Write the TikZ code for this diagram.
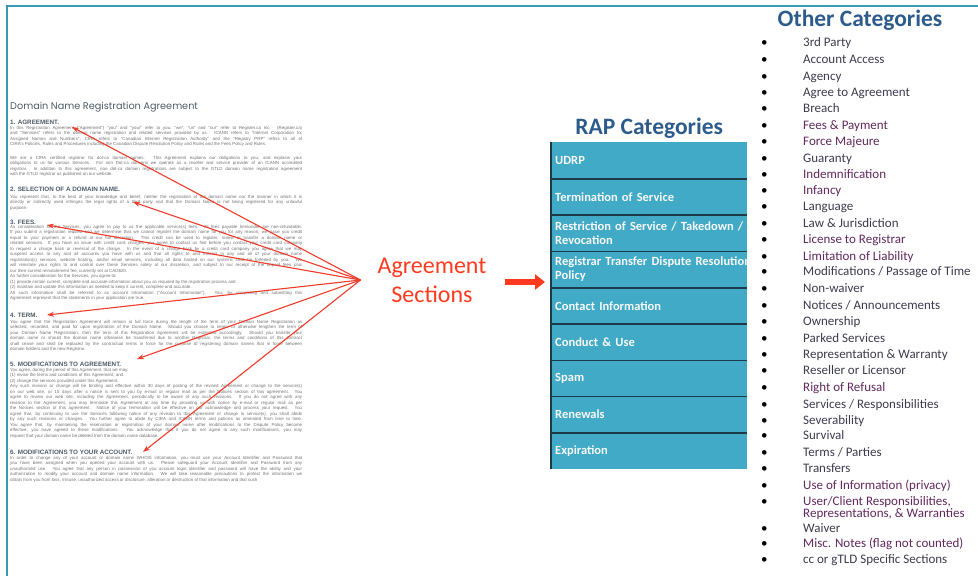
\documentclass[tikz,border=0pt]{standalone}
\usepackage{fontspec}
\setmainfont{Carlito}
\newfontfamily\docfont{Liberation Sans}
\newfontfamily\doctitlefont{Poppins}
\usepackage{tikz}
\usetikzlibrary{arrows.meta, positioning, calc}

\definecolor{borderteal}{HTML}{3A98B0}
\definecolor{cellteal}{HTML}{41AAC6}
\definecolor{cellline}{HTML}{1C3A48}
\definecolor{headblue}{HTML}{2D5B8B}
\definecolor{notered}{HTML}{FF3A1F}
\definecolor{pointred}{HTML}{EE3B2A}
\definecolor{doctext}{HTML}{707070}
\definecolor{dochead}{HTML}{4F5B66}
\definecolor{itemdark}{HTML}{3B3B4F}
\definecolor{itempurple}{HTML}{62285E}

\begin{document}
\begin{tikzpicture}
[x=1pt, y=-1pt,
 border line/.style={draw=borderteal, line width=2pt},
 doc title/.style={anchor=west, inner sep=0pt, text=dochead, font=\doctitlefont\fontsize{9.7}{11}\selectfont},
 clause/.style={anchor=west, inner sep=0pt, text=dochead, font=\docfont\bfseries\fontsize{6.3}{7}\selectfont},
 legal/.style={anchor=north west, inner sep=0pt, text width=292pt, align=justify, text=doctext, font=\docfont\fontsize{4.4}{5.5}\selectfont, execute at begin node={\parindent=0pt\tolerance=10000\hbadness=10000}},
 pointer/.style={draw=pointred, line width=1.1pt, -{Stealth[length=7pt, width=5pt]}},
 note/.style={inner sep=0pt, align=center, text=notered, font=\fontsize{24}{29}\selectfont},
 big arrow/.style={draw=notered, line width=6.5pt, -{Triangle[length=10pt, width=15pt]}},
 cat title/.style={inner sep=0pt, text=headblue, font=\bfseries\fontsize{23.5}{26}\selectfont},
 rap cell/.style={fill=cellteal, anchor=west, minimum width=196pt, minimum height=36.3pt, text width=188pt, inner xsep=4pt, inner ysep=0pt, align=left, text=white!95!gray, font=\bfseries\fontsize{12.5}{14}\selectfont},
 rap line/.style={draw=cellline, line width=1.6pt},
 cat item/.style={anchor=west, inner sep=0pt, text height=9pt, text depth=3pt, font=\fontsize{13}{11.6}\selectfont}]
\useasboundingbox (0,0) rectangle (978,576);
\draw[border line] (7,576) -- (7,6) -- (978,6);

\node[doc title] (doc title) at (10,106.7) {Domain Name Registration Agreement};
\foreach \y/\t [count=\i] in {122/1. AGREEMENT., 189.5/2. SELECTION OF A DOMAIN NAME., 222/3. FEES., 315.5/4. TERM., 364/5. MODIFICATIONS TO AGREEMENT., 452/6. MODIFICATIONS TO YOUR ACCOUNT.}{
	\node[clause] (clause \i) at (10,\y) {\t};
}
\node[legal] (para 1a) at (10,125.7) {In this Registration Agreement ("Agreement") "you" and "your" refer to you, "we", "us" and "our" refer to Register.ca Inc. (Register.ca)\linebreak
and "Services" refers to the domain name registration and related services provided by us. ICANN refers to "Internet Corporation for\linebreak
Assigned Names and Numbers", CIRA refers to "Canadian Internet Registration Authority" and the "Registry PRP" refers to all of\linebreak
CIRA's Policies, Rules and Procedures including the Canadian Dispute Resolution Policy and Rules and the Fees Policy and Rules.};
\node[legal] (para 1b) at (10,155.7) {We are a CIRA certified registrar for dot-ca domain names. This Agreement explains our obligations to you, and explains your\linebreak
obligations to us for various Services. For non Dot-ca domains we operate as a reseller and service provider of an ICANN accredited\linebreak
registrar. In addition to this agreement, non dot-ca domain registrations are subject to the GTLD domain name registration agreement\linebreak
with the GTLD registrar as published on our website.};
\node[legal] (para 2) at (10,194.7) {You represent that, to the best of your knowledge and belief, neither the registration of the domain name nor the manner in which it is\linebreak
directly or indirectly used infringes the legal rights of a third party and that the Domain Name is not being registered for any unlawful\linebreak
purpose.};
\node[legal] (para 3) at (10,224.7) {As consideration for the Services, you agree to pay to us the applicable service(s) fees. All fees payable hereunder are non-refundable.\linebreak
If you submit a registration request and we determine that we cannot register the domain name for you for any reason, we issue you credit\linebreak
equal to your payment or a refund at our full discretion. This credit can be used to register, renew or transfer a domain name or\linebreak
related services. If you have an issue with credit card charges, you agree to contact us first before you contact your credit card company\linebreak
to request a charge back or reversal of the charge. In the event of a charge back by a credit card company you agree that we may\linebreak
suspend access to any and all accounts you have with us and that all rights to and interest in any and all of your domain name\linebreak
registration(s) services, website hosting, and/or email services, including all data hosted on our systems shall be forfeited by you. We\linebreak
will reinstate your rights to and control over these Services solely at our discretion, and subject to our receipt of the unpaid fees plus\linebreak
our then-current reinstatement fee, currently set at CAD\$20.\par
As further consideration for the Services, you agree to:\par
(1) provide certain current, complete and accurate information about you as required by the registration process and\par
(2) maintain and update this information as needed to keep it current, complete and accurate.\par
All such information shall be referred to as account information ("Account Information"). You, by completing and submitting this\linebreak
Agreement represent that the statements in your application are true.};
\node[legal] (para 4) at (10,319.7) {You agree that the Registration Agreement will remain in full force during the length of the term of your Domain Name Registration as\linebreak
selected, recorded, and paid for upon registration of the Domain Name. Should you choose to renew or otherwise lengthen the term of\linebreak
your Domain Name Registration, then the term of this Registration Agreement will be extended accordingly. Should you transfer your\linebreak
domain name or should the domain name otherwise be transferred due to another Registrar, the terms and conditions of this contract\linebreak
shall cease and shall be replaced by the contractual terms in force for the purpose of registering domain names that in force between\linebreak
domain holders and the new Registrar.};
\node[legal] (para 5) at (10,367.7) {You agree, during the period of this Agreement, that we may:\par
(1) revise the terms and conditions of this Agreement; and\par
(2) change the services provided under this Agreement.\par
Any such revision or change will be binding and effective within 30 days of posting of the revised Agreement or change to the service(s)\linebreak
on our web site, or 15 days after a notice is sent to you by e-mail or regular mail as per the Notices section of this agreement. You\linebreak
agree to review our web site, including the Agreement, periodically to be aware of any such revisions. If you do not agree with any\linebreak
revision to the Agreement, you may terminate this Agreement at any time by providing us with notice by e-mail or regular mail as per\linebreak
the Notices section of this agreement. Notice of your termination will be effective on our acknowledge and process your request. You\linebreak
agree that, by continuing to use the Services following notice of any revision to this Agreement or change in service(s), you shall abide\linebreak
by any such revisions or changes. You further agree to abide by CIRA and ICANN terms and policies as amended from time to time.\linebreak
You agree that, by maintaining the reservation or registration of your domain name after modifications to the Dispute Policy become\linebreak
effective, you have agreed to these modifications. You acknowledge that if you do not agree to any such modifications, you may\linebreak
request that your domain name be deleted from the domain name database.};
\node[legal] (para 6) at (10,455.7) {In order to change any of your account or domain name WHOIS information, you must use your Account Identifier and Password that\linebreak
you have been assigned when you opened your account with us. Please safeguard your Account Identifier and Password from any\linebreak
unauthorized use. You agree that any person in possession of you account login identifier and password will have the ability and your\linebreak
authorization to modify your account and domain name information. We will take reasonable precautions to protect the information we\linebreak
obtain from you from loss, misuse, unauthorized access or disclosure, alteration or destruction of that information and that such};

\node[note] (sections) at (432,280) {Agreement\\Sections};
\coordinate[left=17pt of sections.west] (hub);
\foreach \x/\y [count=\i] in {72/127, 133/202, 47/225, 47/315, 137/359, 143/452}{
	\coordinate (tip \i) at (\x,\y);
	\draw[pointer] (hub) -- (tip \i);
}

\foreach \t [count=\i] in {UDRP, Termination of Service, {\mbox{Restriction of Service / Takedown /}\\Revocation}, {\mbox{Registrar Transfer Dispute Resolution}\\Policy}, Contact Information, Conduct \& Use, Spam, Renewals, Expiration}{
	\node[rap cell] (rap \i) at (551,{124.15+36.3*\i}) {\t};
}
\foreach \i in {1,...,8}{
	\draw[rap line] (rap \i.south west) -- (rap \i.south east);
}
\draw[rap line] (rap 1.north west) -- (rap 9.south west);
\node[cat title, above=3.5pt of rap 1] (rap title) {RAP Categories};
\draw[big arrow] ($(sections.east)+(18,2)$) -- ($(sections.east -| rap 1.west)+(-6,2)$);

\node[cat title] (other title) at (860,20) {Other Categories};
\foreach \y/\c/\t [count=\i] in {43.3/itemdark/3rd Party, 60.7/itemdark/Account Access, 77/itemdark/Agency, 93.5/itemdark/Agree to Agreement, 109/itemdark/Breach, 126/itempurple/Fees \& Payment, 142.7/itempurple/Force Majeure, 159/itemdark/Guaranty, 175.7/itempurple/Indemnification, 191/itempurple/Infancy, 207.3/itemdark/Language, 224/itemdark/Law \& Jurisdiction, 240.7/itempurple/License to Registrar, 257.3/itempurple/Limitation of Liability, 272.7/itemdark/{Modifications / Passage of Time}, 289.3/itemdark/Non-waiver, 306/itemdark/{Notices / Announcements}, 322.7/itemdark/Ownership, 339.3/itemdark/Parked Services, 355/itemdark/Representation \& Warranty, 371.7/itemdark/Reseller or Licensor, 388.3/itempurple/Right of Refusal, 405/itemdark/{Services / Responsibilities}, 421.7/itemdark/Severability, 436.7/itemdark/Survival, 453.3/itemdark/{Terms / Parties}, 469.3/itemdark/Transfers, 486.7/itempurple/Use of Information (privacy), 502.7/itempurple/{\parbox[t]{180pt}{User/Client Responsibilities,\\Representations, \& Warranties}}, 529.3/itemdark/Waiver, 544.3/itempurple/Misc. Notes (flag not counted), 560/itemdark/cc or gTLD Specific Sections}{
	\node[cat item] (dot \i) at (761,\y) {\textbullet};
	\node[cat item, text=\c] (other \i) at (803,\y) {\t};
}
\end{tikzpicture}
\end{document}
